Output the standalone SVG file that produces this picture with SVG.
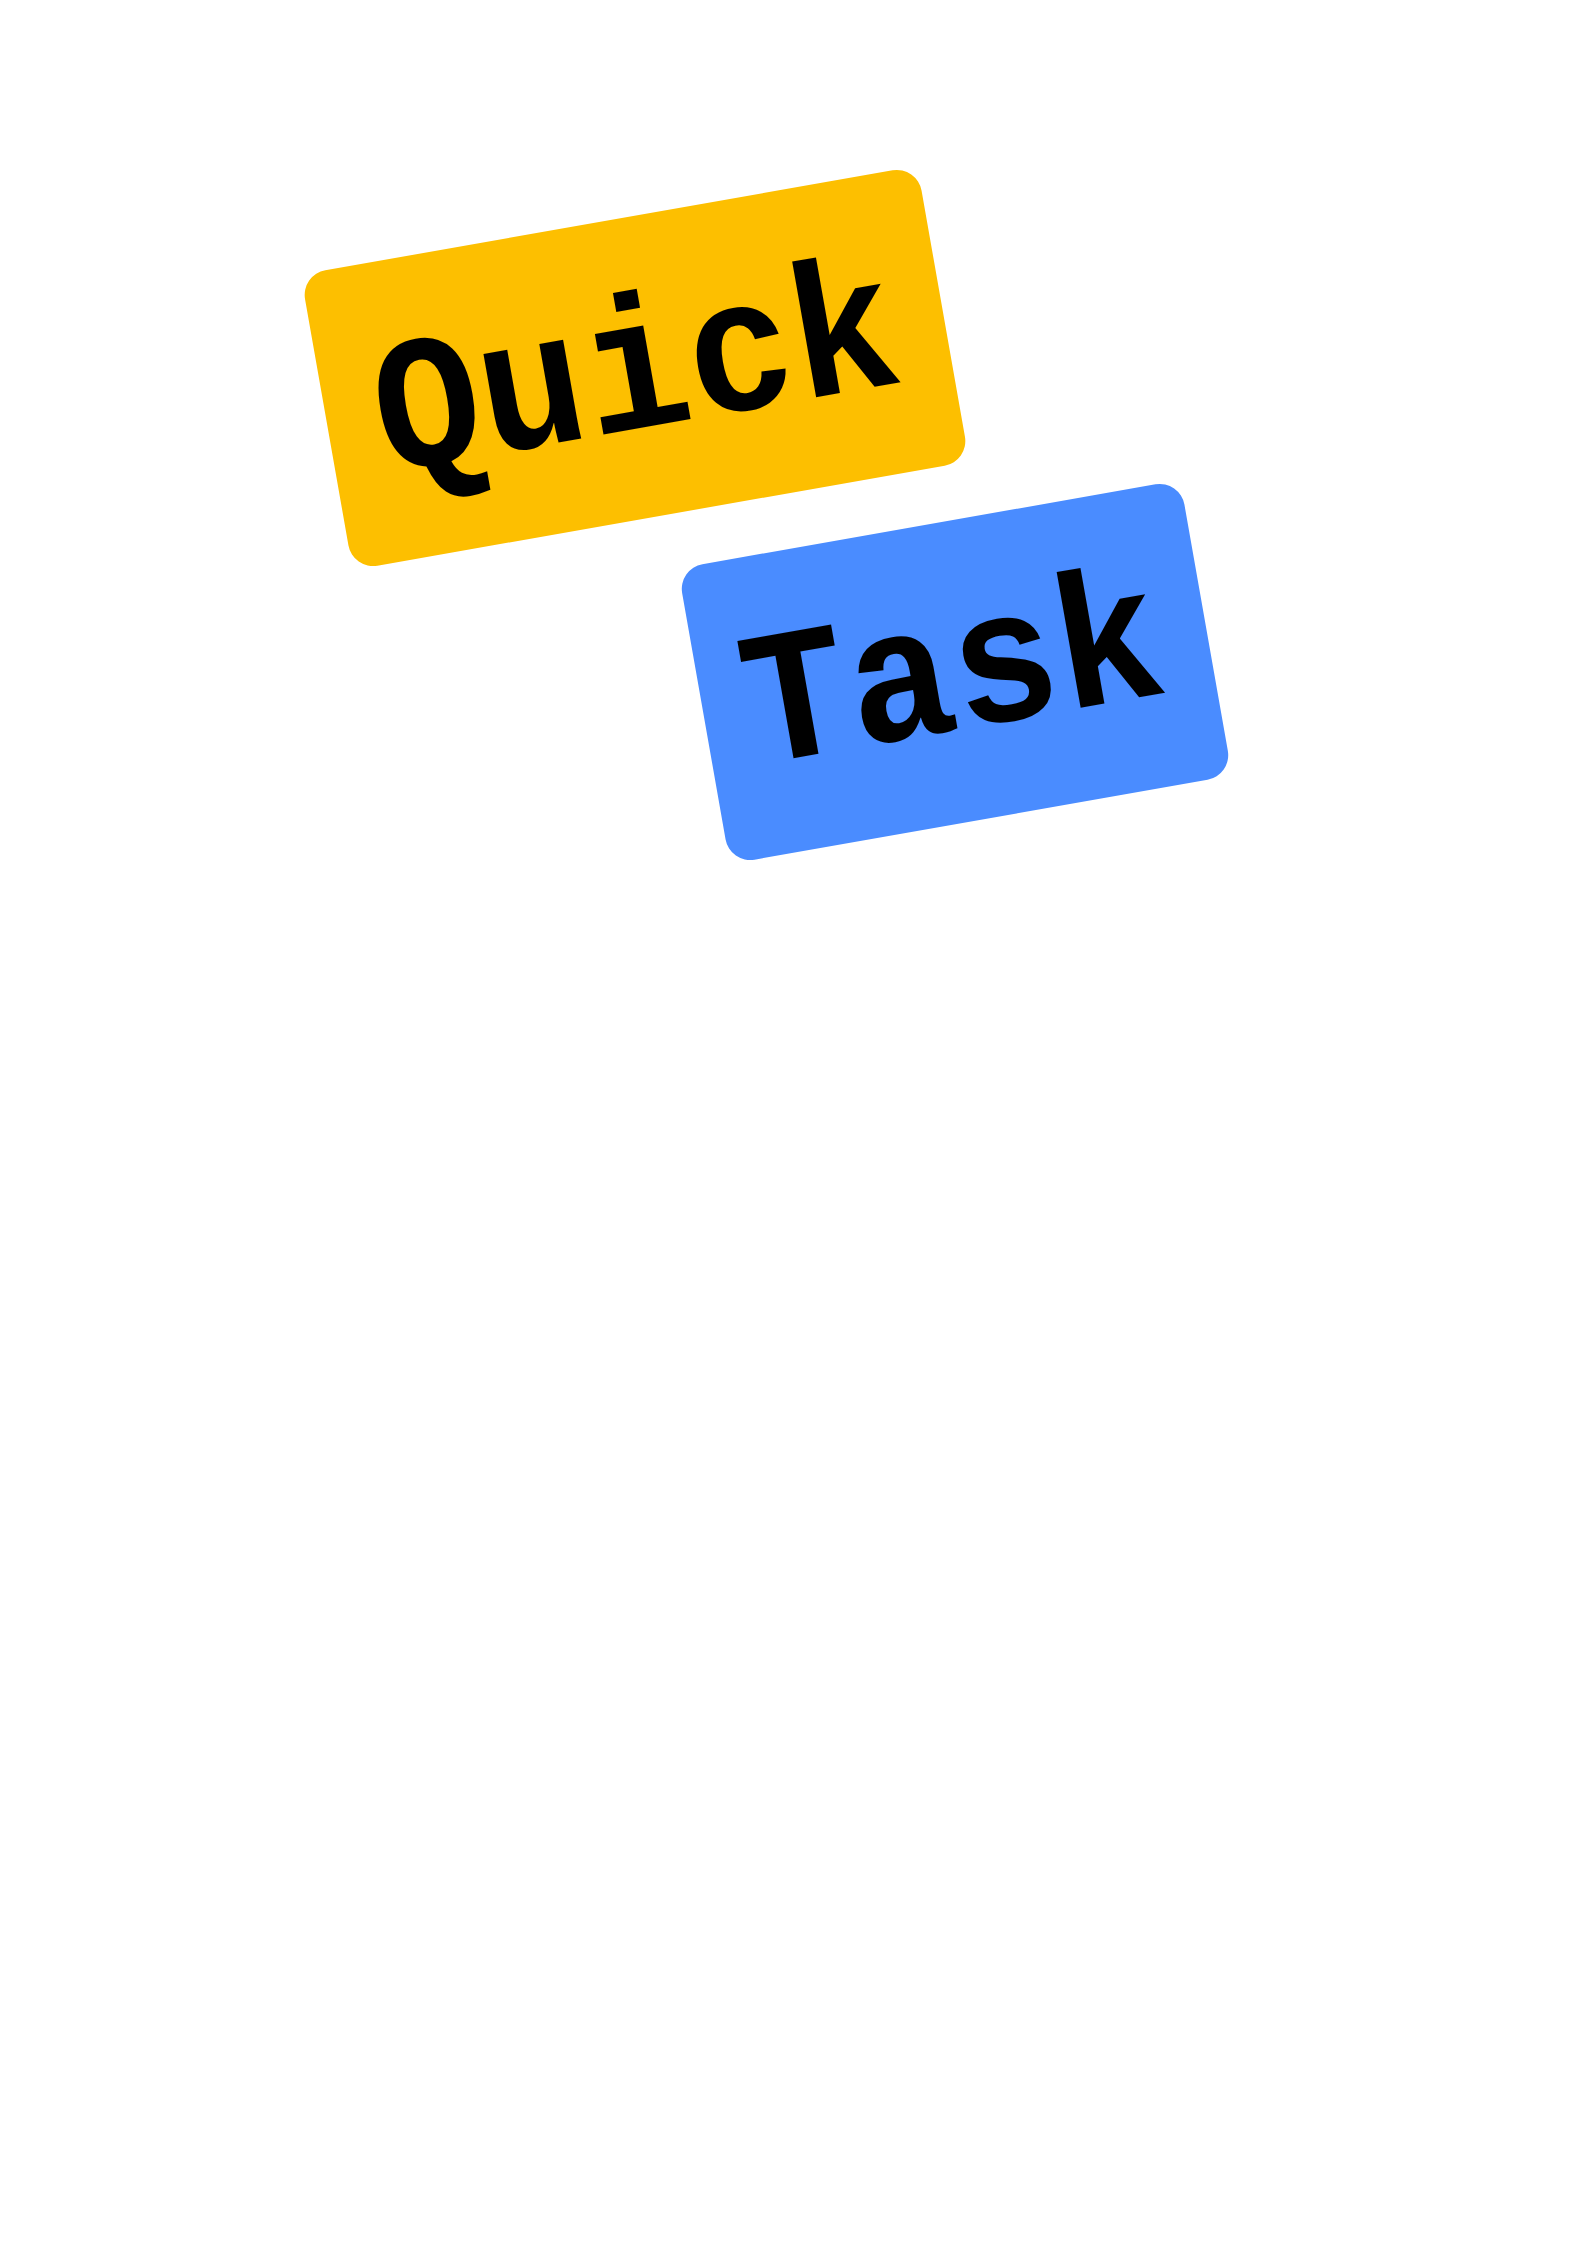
<svg xmlns="http://www.w3.org/2000/svg" width="1587" height="2245" viewBox="0 0 1587 2245">
<style>
.label{font-family:"Liberation Mono","DejaVu Sans Mono",monospace;font-weight:700;font-size:176px;fill:#000;text-anchor:middle}
.yellow{fill:#FDBF00}
.blue{fill:#4A8CFF}
</style>
<rect width="1587" height="2245" fill="#fff"/>
<g id="connectors"></g>
<g id="quick" transform="translate(635,368) rotate(-10)">
<rect class="yellow" x="-313" y="-150" width="626" height="300" rx="25"/>
<text class="label" x="0" y="55.6" transform="scale(1,1.08)">Quick</text>
</g>
<g id="task" transform="translate(955,672) rotate(-10)">
<rect class="blue" x="-255" y="-150" width="510" height="300" rx="25"/>
<text class="label" x="-3" y="52.8" transform="scale(1,1.08)">Task</text>
</g>
</svg>
